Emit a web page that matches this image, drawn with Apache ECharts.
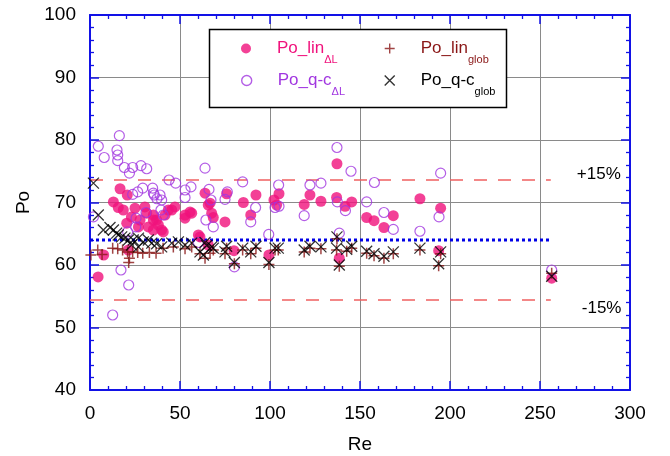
<!DOCTYPE html>
<html>
<head>
<meta charset="utf-8">
<script src="https://cdn.jsdelivr.net/npm/echarts@6/dist/echarts.min.js"></script>
<style>
  html, body { margin: 0; padding: 0; background: #fff; }
  #chart { width: 670px; height: 456px; }
</style>
</head>
<body>
<div id="chart"></div>
<script>
// Poiseuille number Po versus Reynolds number Re, [Re, Po] pairs per data set
const poLinDL = [
  [4.5, 58.1], [7.6, 61.6], [13, 70.1], [15.7, 69.2], [16.7, 72.2], [18.5, 68.8],
  [20.4, 66.7], [20.7, 71.2], [21.3, 62.4], [23, 67.7], [25, 69.1], [26.9, 66.1],
  [27.8, 67.2], [30.5, 69.3], [31.5, 68.3], [32.4, 66.1], [35.2, 67.2], [35.2, 68],
  [35.2, 65.6], [37, 67.2], [38, 66.4], [39.8, 65.6], [40.7, 65.3], [41.7, 68],
  [43.5, 68.8], [45.4, 68.8], [47.2, 69.3], [52.8, 67.5], [52.8, 68], [55.6, 68.5],
  [56.5, 68.3], [60.2, 64.8], [61.1, 64.5], [63.9, 71.5], [65.7, 63.2], [65.7, 69.6],
  [66.7, 69.9], [67.6, 68.3], [68.5, 67.6], [75, 66.9], [75.9, 71.4], [80, 62.3],
  [85.2, 70], [89.3, 68], [92.2, 71.2], [99.4, 61.6], [102.2, 70.4], [103.7, 69.6],
  [105, 71.4], [119, 69.7], [122.2, 71.2], [128.3, 70.2], [137.2, 76.2], [137, 70.8],
  [138.5, 61.1], [141.7, 69.4], [145.4, 70.1], [153.7, 67.6], [157.8, 67.1],
  [163.3, 66], [168.5, 67.9], [183.3, 70.6], [194.8, 69.1], [193.7, 62.3], [256.5, 57.9]
];
const poQcDL = [
  [1.9, 67.7], [4.6, 79], [7.9, 77.2], [12.6, 52], [15, 78.4], [15.4, 77.6],
  [15.4, 76.7], [16.3, 80.7], [17.2, 59.2], [19.1, 75.6], [20.9, 65.3], [21.5, 56.8],
  [21.9, 74.7], [23.7, 75.6], [23.7, 71.3], [25.4, 66.1], [25.6, 67.5], [26.5, 71.7],
  [28.3, 75.9], [29.3, 72.3], [31.1, 68.4], [31.5, 75.4], [34.8, 72.3], [35.2, 71.5],
  [35.7, 71.2], [37.2, 70.6], [38.9, 71.2], [39.4, 68.8], [39.8, 70.4], [40.7, 68],
  [43.9, 73.6], [47.6, 73.1], [52.8, 72], [52.8, 70.8], [56.1, 72.5], [60.2, 63.6],
  [63.9, 75.5], [64.4, 67.2], [66.1, 72.1], [67.2, 70.4], [68.5, 66.1], [75, 70.5],
  [76.3, 71.7], [80.2, 59.7], [84.8, 73.3], [89.3, 66.9], [92, 69.2], [99.3, 64.9],
  [102.8, 69.2], [104.8, 72.8], [105, 69.4], [119, 67.9], [122.2, 72.8], [128.3, 73.1],
  [137.2, 78.8], [137.4, 70.1], [138.5, 65.1], [141.9, 68.7], [145, 75], [153.7, 70.1],
  [158, 73.2], [163.3, 68.4], [168.5, 65.7], [183.3, 65.4], [193.9, 67.7], [194.8, 74.7],
  [256.5, 59.2]
];
const poLinGlob = [
  [0.5, 61.6], [4.3, 62.4], [6.7, 61.7], [12.6, 62.7], [15.4, 62.6], [18.1, 62.4],
  [20.9, 62.1], [21.5, 60.4], [21.9, 61.1], [23.7, 62.1], [26.5, 62], [29.3, 61.9],
  [33, 62], [36.7, 61.9], [40.6, 62.7], [46.3, 62.9], [52.8, 62.6], [56.5, 62.9],
  [61.1, 61.8], [63.9, 61.1], [66.7, 61.9], [68.5, 62.4], [75, 61.8], [75.9, 62.7],
  [80.2, 60.2], [84.8, 62.4], [89.3, 61.8], [92.2, 62.7], [99.4, 60.1], [102.8, 62.4],
  [104.6, 62.4], [119, 62.1], [122.2, 62.7], [128.3, 62.6], [137.2, 64.2], [137, 62.4],
  [138.5, 59.8], [142.6, 62.2], [145.4, 62.7], [153.7, 61.9], [157.8, 61.5],
  [163.3, 61.1], [168.5, 61.8], [183.3, 62.4], [194.8, 61.8], [193.7, 59.9], [256.5, 58.7]
];
const poQcGlob = [
  [1.9, 73.1], [4.6, 68], [7.4, 65.6], [11.1, 66], [13, 65.6], [14.8, 65.1],
  [15.7, 64.8], [17.6, 64.5], [19.4, 64.3], [21.3, 64], [23.1, 63.2], [24, 64],
  [26.9, 64.3], [26.9, 62.9], [29.6, 63.7], [32.4, 64], [34.3, 63.5], [37, 63.4],
  [39.8, 62.9], [45.4, 63.5], [49.1, 63.7], [52.8, 63.2], [56.5, 63.5], [61.1, 62.1],
  [63, 61.6], [63.9, 63.6], [64.8, 63.1], [67.6, 62.9], [68.5, 62.7], [75, 62.1],
  [75.9, 63], [80.2, 60.4], [84.8, 62.7], [89.3, 62.1], [92.2, 63], [99.4, 60.4],
  [102.8, 62.7], [104.6, 62.7], [119, 62.4], [122.2, 63], [128.3, 62.9], [137.2, 64.5],
  [137, 62.7], [138.5, 60], [142.6, 62.5], [145.4, 63], [153.7, 62.2], [157.8, 61.8],
  [163.3, 61.4], [168.5, 62.1], [183.3, 62.7], [194.8, 62.1], [193.7, 60.2], [256.5, 58.2]
];

// reference level and ±15 % band
const poMean = 64;
const bandFrac = 0.15;
const bandRe = [0, 256];
const bandLabels = ['+15%', '-15%'];

// axis ranges
const reAxis = { min: 0, max: 300, interval: 50 };
const poAxis = { min: 40, max: 100, interval: 10 };

const FONT = "'Liberation Sans', Arial, Helvetica, sans-serif";
const AXIS_BLUE = '#1212e6';
const GRID_GRAY = '#8a8a8a';
const PINK = '#f0127c';
const PURPLE = '#a136e0';
const DARKRED = '#8a1616';
const BAND_RED = '#f06060';

const plusPath = 'path://M5,0L5,10M0,5L10,5';
const crossPath = 'path://M0,0L10,10M10,0L0,10';

const chart = echarts.init(document.getElementById('chart'), null, { renderer: 'canvas' });

function frameAxis(base, position, extra) {
  return Object.assign({
    type: 'value',
    position,
    min: base.min, max: base.max, interval: base.interval,
    axisLine: { show: true, onZero: false, lineStyle: { color: AXIS_BLUE, width: 2 } },
    axisTick: { show: true, inside: true, length: 9, lineStyle: { color: AXIS_BLUE, width: 1.5 } },
    minorTick: { show: true, splitNumber: 5, length: 4, lineStyle: { color: AXIS_BLUE, width: 1.3 } },
    splitLine: { show: false },
    axisLabel: { show: false }
  }, extra || {});
}

const labelStyle = { color: '#000', fontSize: 19, fontFamily: FONT };

function bandSeries(value, label, offset) {
  return {
    type: 'line',
    data: bandRe.map(r => [r, value]),
    symbol: 'none',
    silent: true,
    lineStyle: { color: BAND_RED, width: 1.5, type: [13, 11] },
    endLabel: { show: true, formatter: label, fontSize: 17, fontFamily: FONT, color: '#000', offset },
    z: 1
  };
}

function legendFor(name, left, top, color, main, sub, bordered) {
  return {
    data: [name],
    left, top,
    padding: 0,
    itemWidth: 10, itemHeight: 10,
    selectedMode: false,
    itemStyle: { borderWidth: bordered ? 1.4 : 0 },
    formatter: () => `{g| }{m|${main}}{s|${sub}}`,
    textStyle: {
      rich: {
        g: { width: 21, lineHeight: 34, fontSize: 10 },
        m: { fontSize: 17, fontFamily: FONT, color, verticalAlign: 'middle' },
        s: { fontSize: 11, fontFamily: FONT, color, lineHeight: 11, verticalAlign: 'bottom' }
      }
    },
    z: 10
  };
}

chart.setOption({
  animation: false,
  backgroundColor: '#fff',
  grid: { left: 90, right: 40, top: 15, bottom: 66, containLabel: false, outerBoundsMode: 'none' },
  xAxis: [
    frameAxis(reAxis, 'bottom', {
      name: 'Re', nameLocation: 'middle', nameGap: 45,
      nameTextStyle: { color: '#000', fontSize: 19, fontFamily: FONT },
      axisLabel: Object.assign({ show: true, margin: 14 }, labelStyle),
      splitLine: { show: true, lineStyle: { color: GRID_GRAY, width: 1 } }
    }),
    frameAxis(reAxis, 'top')
  ],
  yAxis: [
    frameAxis(poAxis, 'left', {
      name: 'Po', nameLocation: 'middle', nameGap: 50,
      nameTextStyle: { color: '#000', fontSize: 19, fontFamily: FONT },
      axisLabel: Object.assign({ show: true, margin: 14 }, labelStyle),
      splitLine: { show: true, lineStyle: { color: GRID_GRAY, width: 1 } }
    }),
    frameAxis(poAxis, 'right')
  ],
  legend: [
    legendFor('linDL', 241, 40, PINK, 'Po_lin', 'ΔL', false),
    legendFor('qcDL', 241, 72, PURPLE, 'Po_q-c', 'ΔL', true),
    legendFor('linGlob', 384, 40, DARKRED, 'Po_lin', 'glob', true),
    legendFor('qcGlob', 384, 72, '#000', 'Po_q-c', 'glob', true)
  ],
  graphic: [{
    type: 'rect',
    shape: { x: 209.5, y: 29.5, width: 297, height: 78 },
    style: { fill: '#fff', stroke: '#000', lineWidth: 1.5 },
    z: 5
  }],
  series: [
    bandSeries(poMean * (1 + bandFrac), bandLabels[0], [18, -6]),
    bandSeries(poMean * (1 - bandFrac), bandLabels[1], [23, 8]),
    {
      type: 'line',
      data: bandRe.map(r => [r, poMean]),
      symbol: 'none',
      silent: true,
      lineStyle: { color: '#0000e6', width: 3, type: [3, 3] },
      z: 1
    },
    {
      name: 'linDL', type: 'scatter', data: poLinDL,
      symbol: 'circle', symbolSize: 11,
      itemStyle: { color: PINK }
    },
    {
      name: 'qcDL', type: 'scatter', data: poQcDL,
      symbol: 'circle', symbolSize: 10,
      itemStyle: { color: 'transparent', borderColor: PURPLE, borderWidth: 1.2 }
    },
    {
      name: 'linGlob', type: 'scatter', data: poLinGlob,
      symbol: plusPath, symbolSize: 11,
      itemStyle: { color: DARKRED, borderColor: DARKRED, borderWidth: 1.5 }
    },
    {
      name: 'qcGlob', type: 'scatter', data: poQcGlob,
      symbol: crossPath, symbolSize: 11,
      itemStyle: { color: '#000', borderColor: '#000', borderWidth: 1.3 }
    }
  ]
});
</script>
</body>
</html>
